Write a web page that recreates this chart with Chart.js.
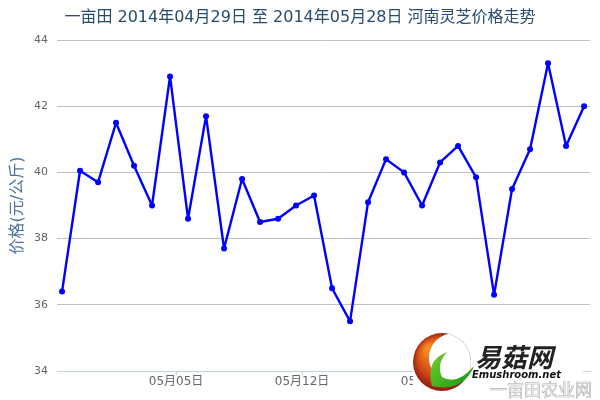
<!DOCTYPE html>
<html>
<head>
<meta charset="utf-8">
<script src="https://cdn.jsdelivr.net/npm/chart.js@4.4.1/dist/chart.umd.min.js"></script>
<style>
    html, body { margin: 0; padding: 0; background: #fff; }
    #wrap { width: 600px; height: 400px; }
</style>
</head>
<body>
<div id="wrap"><canvas id="price-chart" width="600" height="400"></canvas></div>
<script>
// Chart data
const titleText = '一亩田 2014年04月29日 至 2014年05月28日 河南灵芝价格走势';
const yTitle = '价格(元/公斤)';
const dates = [
    '04月29日', '04月30日', '05月01日', '05月02日', '05月03日', '05月04日',
    '05月05日', '05月06日', '05月07日', '05月08日', '05月09日', '05月10日',
    '05月11日', '05月12日', '05月13日', '05月14日', '05月15日', '05月16日',
    '05月17日', '05月18日', '05月19日', '05月20日', '05月21日', '05月22日',
    '05月23日', '05月24日', '05月25日', '05月26日', '05月27日', '05月28日'
];
const prices = [
    36.4, 40.05, 39.7, 41.5, 40.2, 39.0,
    42.9, 38.6, 41.7, 37.7, 39.8, 38.5,
    38.6, 39.0, 39.3, 36.5, 35.5, 39.1,
    40.4, 40.0, 39.0, 40.3, 40.8, 39.85,
    36.3, 39.5, 40.7, 43.3, 40.8, 42.0
];
// x tick labels sit on UTC midnight, data on local (UTC+8) midnight
const xTickDays = [6, 13, 20, 27];
const xTickLabels = ['05月05日', '05月12日', '05月19日', '05月26日'];
const tzShift = 8 / 24;
const yTicks = [34, 36, 38, 40, 42, 44];

const fontFamily = '"DejaVu Sans", "Noto Sans CJK SC", sans-serif';

// Title and watermark drawn on top of the chart
const decorPlugin = {
    id: 'decor',
    afterDraw(chart) {
        const ctx = chart.ctx;
        ctx.save();

        // title
        ctx.font = '16px ' + fontFamily;
        ctx.fillStyle = '#274b6d';
        ctx.textAlign = 'center';
        ctx.textBaseline = 'middle';
        ctx.fillText(titleText, 300, 18);

        // watermark background
        ctx.fillStyle = '#ffffff';
        ctx.fillRect(413, 334, 170, 58);

        // logo: orange-red "C", open to the right
        ctx.save();
        ctx.beginPath();
        ctx.arc(442, 362, 29, 0, Math.PI * 2);
        ctx.clip();
        const grad = ctx.createRadialGradient(428, 348, 2, 442, 362, 30);
        grad.addColorStop(0, '#f39020');
        grad.addColorStop(0.55, '#d8501a');
        grad.addColorStop(1, '#8e1a10');
        ctx.fillStyle = grad;
        ctx.fillRect(412, 332, 60, 60);
        ctx.fillStyle = '#ffffff';
        ctx.beginPath();
        ctx.arc(454, 358, 25, 0, Math.PI * 2);
        ctx.fill();
        ctx.restore();

        // logo: green swoosh
        const green = ctx.createLinearGradient(430, 350, 470, 385);
        green.addColorStop(0, '#7bd02a');
        green.addColorStop(1, '#139a18');
        ctx.fillStyle = green;
        ctx.beginPath();
        ctx.moveTo(432, 386);
        ctx.quadraticCurveTo(425, 360, 447, 352);
        ctx.quadraticCurveTo(436, 364, 442, 377);
        ctx.quadraticCurveTo(457, 386, 474, 366);
        ctx.quadraticCurveTo(463, 393, 432, 386);
        ctx.fill();

        // logo text
        ctx.textAlign = 'left';
        ctx.textBaseline = 'alphabetic';
        ctx.font = 'italic bold 26px "Noto Sans CJK SC", sans-serif';
        ctx.fillStyle = '#222';
        ctx.fillText('易菇网', 475, 367);
        ctx.font = 'italic bold 10px "DejaVu Sans", sans-serif';
        ctx.fillStyle = '#111';
        ctx.fillText('Emushroom.net', 472, 378);

        ctx.font = '17px "Noto Sans CJK SC", sans-serif';
        ctx.strokeStyle = '#aaaaaa';
        ctx.lineWidth = 0.6;
        ctx.strokeText('一亩田农业网', 490, 396);

        ctx.restore();
    }
};

const ctx = document.getElementById('price-chart').getContext('2d');

const chart = new Chart(ctx, {
    type: 'line',
    data: {
        datasets: [{
            label: '价格',
            data: prices.map((p, i) => ({ x: i, y: p, date: dates[i] })),
            borderColor: '#0000ff',
            backgroundColor: '#0000ff',
            borderWidth: 2.4,
            borderJoinStyle: 'round',
            borderCapStyle: 'round',
            pointRadius: 3,
            pointBorderWidth: 0,
            pointBackgroundColor: '#0000ff',
            tension: 0,
            fill: false
        }]
    },
    options: {
        responsive: false,
        devicePixelRatio: 1,
        animation: false,
        layout: {
            padding: { top: 40, right: 10, left: 0, bottom: 0 }
        },
        plugins: {
            legend: { display: false },
            tooltip: { enabled: false },
            title: { display: false }
        },
        scales: {
            x: {
                type: 'linear',
                min: -0.28,
                max: 29.33,
                afterBuildTicks: function(scale) {
                    scale.ticks = xTickDays.map(d => ({ value: d + tzShift }));
                },
                afterFit: function(scale) {
                    scale.height = 29;
                },
                ticks: {
                    autoSkip: false,
                    maxRotation: 0,
                    color: '#666',
                    padding: 0,
                    font: { size: 12, family: fontFamily },
                    callback: function(value, index) {
                        return xTickLabels[index];
                    }
                },
                grid: {
                    drawOnChartArea: false,
                    drawTicks: true,
                    tickLength: 4,
                    color: '#C0D0E0'
                },
                border: { color: '#C0D0E0', width: 1 }
            },
            y: {
                min: 34,
                max: 44,
                afterBuildTicks: function(scale) {
                    scale.ticks = yTicks.map(v => ({ value: v }));
                },
                afterFit: function(scale) {
                    scale.width = 57;
                },
                ticks: {
                    color: '#666',
                    padding: 9,
                    font: { size: 11, family: fontFamily }
                },
                grid: {
                    color: '#C0C0C0',
                    drawTicks: false
                },
                border: { display: false },
                title: {
                    display: true,
                    text: yTitle,
                    color: '#4d759e',
                    font: { size: 16, family: fontFamily },
                    padding: { top: 8, bottom: 0 }
                }
            }
        }
    },
    plugins: [decorPlugin]
});
</script>
</body>
</html>
